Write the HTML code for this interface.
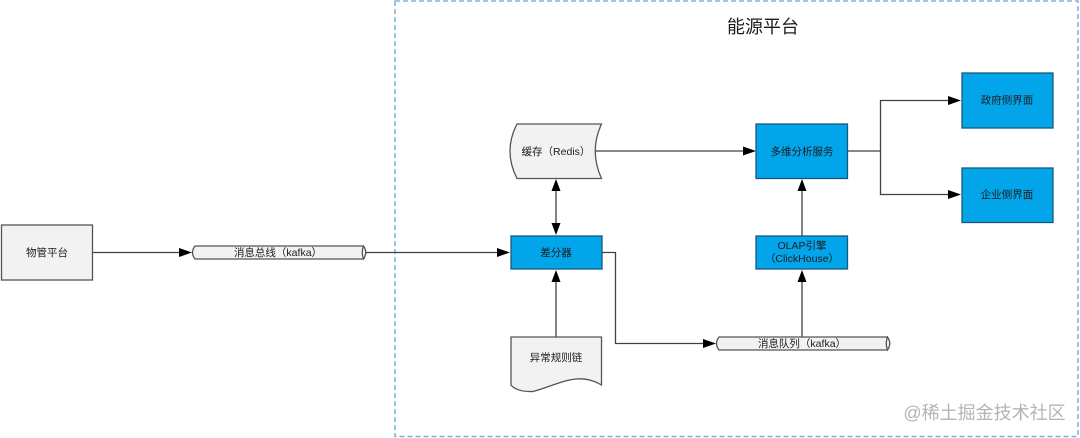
<!DOCTYPE html>
<html><head><meta charset="utf-8">
<style>
html,body{margin:0;padding:0;background:#fff;width:1080px;height:438px;overflow:hidden}
svg{display:block;filter:blur(0.3px)}
text{font-family:"Liberation Sans","Noto Sans CJK SC",sans-serif;font-size:10.5px;fill:#1c1c1c;text-anchor:middle}
.s{fill:#f2f2f2;stroke:#555;stroke-width:1.3}
.b{fill:#02a5ea;stroke:#17597c;stroke-width:1.3}
.l{fill:none;stroke:#404040;stroke-width:1.3}
.a{fill:#000;stroke:none}
</style></head><body>
<svg width="1080" height="438" viewBox="0 0 1080 438" xmlns="http://www.w3.org/2000/svg">
<rect x="395" y="1" width="683" height="435.500" fill="none" stroke="#62a8d4" stroke-width="1.300" stroke-dasharray="5 3"/>
<text x="763" y="33" style="font-size:18px">能源平台</text>

<!-- connectors -->
<path class="l" d="M92 252.500H181"/>
<path class="l" d="M366 252.500H499"/>
<path class="l" d="M595 151H745"/>
<path class="l" d="M556 190V225"/>
<path class="l" d="M556 337V281"/>
<path class="l" d="M602 252.500H615.500V343.500H705"/>
<path class="l" d="M802 337V281"/>
<path class="l" d="M802 236V190"/>
<path class="l" d="M848 151H880.500M950 100.500H880.500V194.500H950"/>

<!-- arrowheads -->
<polygon class="a" points="192,252.500 179,248 179,257"/>
<polygon class="a" points="510,252.500 497,248 497,257"/>
<polygon class="a" points="756,151 743,146.500 743,155.500"/>
<polygon class="a" points="716,343.500 703,339 703,348"/>
<polygon class="a" points="961,100.500 948,96 948,105"/>
<polygon class="a" points="961,194.500 948,190 948,199"/>
<polygon class="a" points="556,179 551.500,191 560.500,191"/>
<polygon class="a" points="556,235 551.500,223 560.500,223"/>
<polygon class="a" points="556,270 551.500,282 560.500,282"/>
<polygon class="a" points="802,270 797.500,282 806.500,282"/>
<polygon class="a" points="802,179 797.500,191 806.500,191"/>

<!-- nodes -->
<rect class="s" x="1.500" y="225" width="91" height="55"/>
<text x="47" y="256">物管平台</text>

<path class="s" d="M195 246H363Q366 252.500 363 259H195Q190 252.500 195 246Z"/>
<path class="s" d="M363.500 246Q368 252.500 363.500 259Q361 252.500 363.500 246Z"/>
<text x="278" y="256">消息总线（kafka）</text>

<path class="s" d="M517 124H601.500Q589 151 601.500 178.500H517Q503 151 517 124Z"/>
<text x="556" y="155">缓存（Redis）</text>

<rect class="b" x="511" y="236" width="91" height="33"/>
<text x="556" y="256">差分器</text>

<path class="s" d="M511 337H601.500V385C578 371 560 384 533 391.500C522 392 514 389 511 385Z"/>
<text x="556" y="361">异常规则链</text>

<path class="s" d="M719 337H887Q890 343.500 887 350H719Q714 343.500 719 337Z"/>
<path class="s" d="M887.500 337Q892 343.500 887.500 350Q885 343.500 887.500 337Z"/>
<text x="802" y="347">消息队列（kafka）</text>

<rect class="b" x="756" y="236" width="91.500" height="33"/>
<text x="802" y="249">OLAP引擎</text>
<text x="802" y="262">（ClickHouse）</text>

<rect class="b" x="756" y="124" width="91.500" height="54.500"/>
<text x="802" y="155">多维分析服务</text>

<rect class="b" x="962" y="73" width="91" height="55"/>
<text x="1007" y="103.500">政府侧界面</text>

<rect class="b" x="962" y="168" width="91" height="54.500"/>
<text x="1007" y="198">企业侧界面</text>

<text x="984.500" y="419" style="font-size:18px;fill:#b4b4b4">@稀土掘金技术社区</text>
</svg>
</body></html>
